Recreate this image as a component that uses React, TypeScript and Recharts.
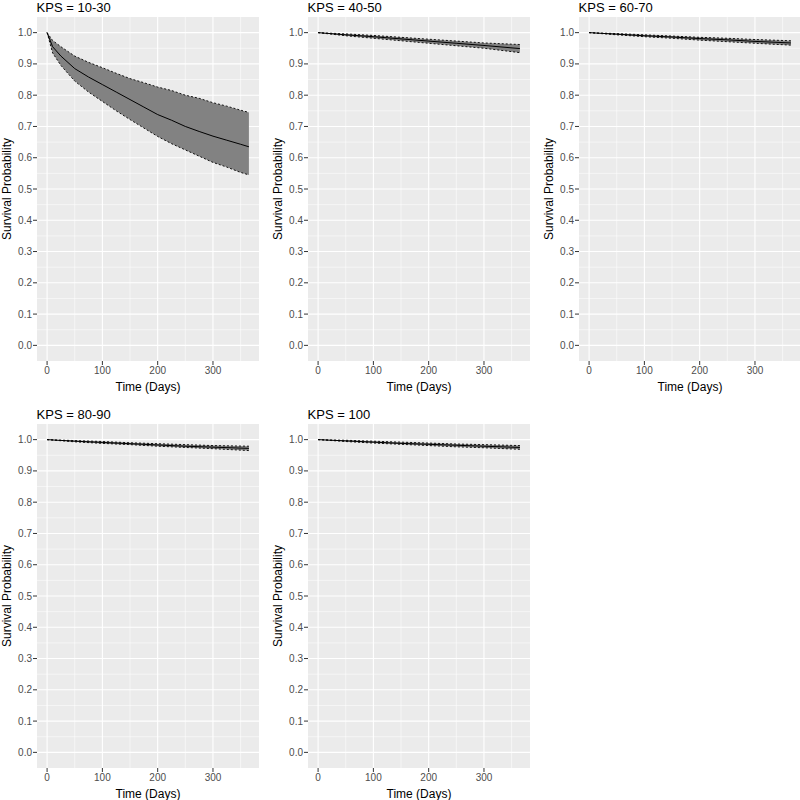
import React from "react";
import { ComposedChart, Area, Line, XAxis, YAxis, CartesianGrid } from "recharts";

// time grid (days)
const TIME_A = [0, 10, 25, 50, 75, 100, 125, 150, 175, 200, 225, 250, 275, 300, 325, 350, 365];
const TIME_B = [0, 50, 100, 150, 200, 250, 300, 365];

// KPS = 10-30
const EST_10_30 = [1.0, 0.955, 0.925, 0.885, 0.858, 0.834, 0.81, 0.786, 0.762, 0.738, 0.72, 0.7, 0.684, 0.669, 0.656, 0.643, 0.635];
const LO_10_30 = [1.0, 0.935, 0.895, 0.845, 0.81, 0.78, 0.75, 0.722, 0.695, 0.668, 0.645, 0.625, 0.605, 0.585, 0.57, 0.553, 0.545];
const HI_10_30 = [1.0, 0.975, 0.955, 0.925, 0.905, 0.888, 0.87, 0.853, 0.84, 0.826, 0.815, 0.8, 0.79, 0.776, 0.765, 0.752, 0.745];

// KPS = 40-50
const EST_40_50 = [1.0, 0.993, 0.987, 0.98, 0.973, 0.966, 0.959, 0.949];
const LO_40_50 = [1.0, 0.99, 0.982, 0.974, 0.966, 0.958, 0.95, 0.936];
const HI_40_50 = [1.0, 0.996, 0.991, 0.985, 0.979, 0.973, 0.967, 0.962];

// KPS = 60-70
const EST_60_70 = [1.0, 0.995, 0.99, 0.986, 0.981, 0.977, 0.972, 0.967];
const LO_60_70 = [1.0, 0.993, 0.987, 0.982, 0.976, 0.971, 0.966, 0.96];
const HI_60_70 = [1.0, 0.997, 0.993, 0.989, 0.985, 0.982, 0.978, 0.974];

// KPS = 80-90
const EST_80_90 = [1.0, 0.995, 0.991, 0.987, 0.983, 0.979, 0.976, 0.972];
const LO_80_90 = [1.0, 0.993, 0.988, 0.984, 0.979, 0.975, 0.971, 0.965];
const HI_80_90 = [1.0, 0.997, 0.994, 0.99, 0.987, 0.984, 0.981, 0.979];

// KPS = 100
const EST_100 = [1.0, 0.996, 0.992, 0.988, 0.985, 0.982, 0.979, 0.975];
const LO_100 = [1.0, 0.994, 0.989, 0.985, 0.981, 0.977, 0.974, 0.969];
const HI_100 = [1.0, 0.998, 0.995, 0.992, 0.989, 0.986, 0.984, 0.981];

const X_TICKS = [0, 100, 200, 300];
const X_MINOR = [50, 150, 250, 350];
const Y_TICKS = [0, 0.1, 0.2, 0.3, 0.4, 0.5, 0.6, 0.7, 0.8, 0.9, 1.0];
const Y_MINOR = [0.05, 0.15, 0.25, 0.35, 0.45, 0.55, 0.65, 0.75, 0.85, 0.95];

const FONT = "'Liberation Sans', Arial, sans-serif";
const PLOT_W = 222;
const PLOT_H = 344;
const AXIS_W = 37;

function rows(time: number[], est: number[], lo: number[], hi: number[]) {
  return time.map((t, i) => ({ t, est: est[i], lo: lo[i], hi: hi[i], band: [lo[i], hi[i]] }));
}

interface PanelProps {
  title: string;
  left: number; // plot area left
  top: number; // plot area top
  data: { t: number; est: number; lo: number; hi: number; band: number[] }[];
}

function Panel({ title, left, top, data }: PanelProps) {
  const tick = { fontSize: 10, fill: "#4D4D4D", fontFamily: FONT };
  return (
    <>
      <div
        style={{
          position: "absolute",
          left,
          top: top - 16,
          fontSize: 13,
          lineHeight: "13px",
          fontFamily: FONT,
          color: "#000",
          whiteSpace: "nowrap",
        }}
      >
        {title}
      </div>
      <div style={{ position: "absolute", left: left - AXIS_W, top }}>
        <ComposedChart
          width={AXIS_W + PLOT_W}
          height={PLOT_H + 40}
          data={data}
          margin={{ top: 0, right: 0, left: 0, bottom: 0 }}
        >
          <CartesianGrid
            horizontalValues={Y_MINOR}
            verticalValues={X_MINOR}
            stroke="#FFFFFF"
            strokeWidth={0.55}
            fill="#EBEBEB"
            fillOpacity={1}
          />
          <CartesianGrid
            horizontalValues={Y_TICKS}
            verticalValues={X_TICKS}
            stroke="#FFFFFF"
            strokeWidth={1.1}
          />
          <XAxis
            dataKey="t"
            type="number"
            domain={[-18.25, 383.25]}
            ticks={X_TICKS}
            allowDataOverflow
            axisLine={false}
            tickSize={4}
            tickMargin={2}
            tickLine={{ stroke: "#333333" }}
            tick={tick}
            height={40}
            label={{
              value: "Time (Days)",
              position: "insideBottom",
              offset: 10,
              style: { fontSize: 12, fill: "#000", fontFamily: FONT },
            }}
          />
          <YAxis
            type="number"
            domain={[-0.05, 1.05]}
            ticks={Y_TICKS}
            allowDataOverflow
            axisLine={false}
            tickSize={4}
            tickMargin={1}
            tickLine={{ stroke: "#333333" }}
            tick={tick}
            tickFormatter={(v: number) => v.toFixed(1)}
            width={AXIS_W}
            label={{
              value: "Survival Probability",
              angle: -90,
              position: "insideLeft",
              offset: 6.5,
              style: { fontSize: 12, fill: "#000", fontFamily: FONT, textAnchor: "middle" },
            }}
          />
          <Area
            dataKey="band"
            type="linear"
            fill="#828282"
            fillOpacity={1}
            stroke="none"
            isAnimationActive={false}
          />
          <Line dataKey="lo" type="linear" stroke="#000" strokeWidth={0.9} strokeDasharray="2 2" dot={false} isAnimationActive={false} />
          <Line dataKey="hi" type="linear" stroke="#000" strokeWidth={0.9} strokeDasharray="2 2" dot={false} isAnimationActive={false} />
          <Line dataKey="est" type="linear" stroke="#000" strokeWidth={1} dot={false} isAnimationActive={false} />
        </ComposedChart>
      </div>
    </>
  );
}

export default function App() {
  return (
    <div
      style={{
        position: "fixed",
        left: 0,
        top: 0,
        width: 800,
        height: 800,
        background: "#fff",
        overflow: "hidden",
      }}
    >
      <Panel title="KPS = 10-30" left={36.6} top={17} data={rows(TIME_A, EST_10_30, LO_10_30, HI_10_30)} />
      <Panel title="KPS = 40-50" left={307.6} top={17} data={rows(TIME_B, EST_40_50, LO_40_50, HI_40_50)} />
      <Panel title="KPS = 60-70" left={578.6} top={17} data={rows(TIME_B, EST_60_70, LO_60_70, HI_60_70)} />
      <Panel title="KPS = 80-90" left={36.6} top={424} data={rows(TIME_B, EST_80_90, LO_80_90, HI_80_90)} />
      <Panel title="KPS = 100" left={307.6} top={424} data={rows(TIME_B, EST_100, LO_100, HI_100)} />
    </div>
  );
}
